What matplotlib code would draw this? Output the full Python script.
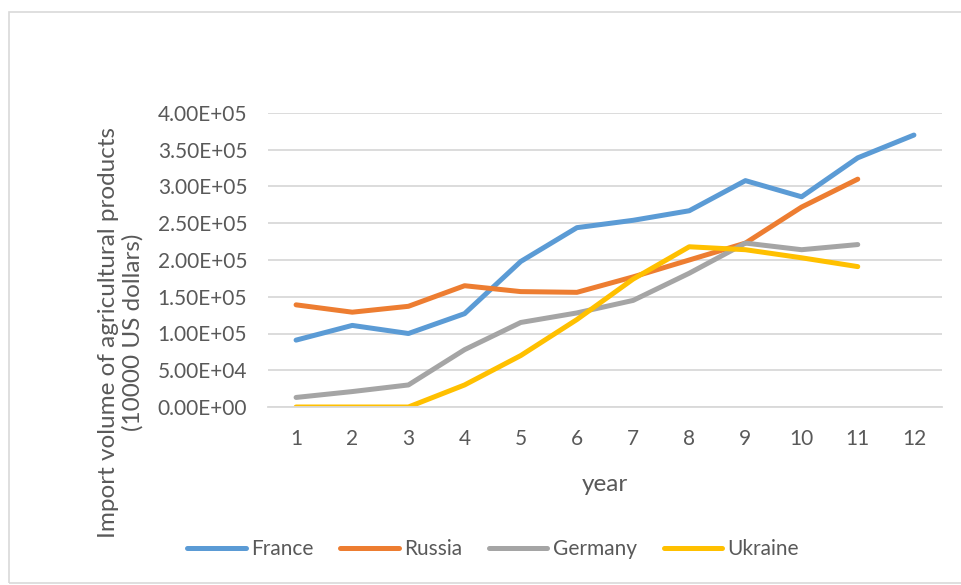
import matplotlib.pyplot as plt
from matplotlib.patches import Rectangle

years = list(range(1, 13))
france = [0.91e5, 1.11e5, 1.00e5, 1.27e5, 1.98e5, 2.44e5, 2.54e5, 2.67e5, 3.08e5, 2.86e5, 3.39e5, 3.70e5]
russia = [1.39e5, 1.29e5, 1.37e5, 1.65e5, 1.57e5, 1.56e5, 1.77e5, 2.00e5, 2.23e5, 2.72e5, 3.10e5]
germany = [0.13e5, 0.21e5, 0.30e5, 0.78e5, 1.15e5, 1.28e5, 1.45e5, 1.82e5, 2.23e5, 2.14e5, 2.21e5]
ukraine = [0, 0, 0, 0.30e5, 0.70e5, 1.19e5, 1.74e5, 2.18e5, 2.14e5, 2.03e5, 1.91e5]

yticks = [0, 0.5e5, 1.0e5, 1.5e5, 2.0e5, 2.5e5, 3.0e5, 3.5e5, 4.0e5]

plt.rcParams['font.family'] = ['Lato', 'DejaVu Sans']
text_color = '#595959'

fig = plt.figure(figsize=(9.61, 5.85), dpi=100)
W, H = 961, 585
ax = fig.add_axes([268 / W, 1 - 407 / H, (942 - 268) / W, (407 - 113) / H])

# chart area border
fig.patches.append(Rectangle((9 / W, 1 - 583 / H), 960 / W, 571 / H, transform=fig.transFigure,
                             fill=False, edgecolor='#D9D9D9', linewidth=1.2))

series = [('France', france, '#5B9BD5'), ('Russia', russia, '#ED7D31'),
          ('Germany', germany, '#A5A5A5'), ('Ukraine', ukraine, '#FFC000')]
for name, vals, col in series:
    ax.plot(years[:len(vals)], vals, color=col, linewidth=3.6, label=name,
            solid_capstyle='round', solid_joinstyle='round')

ax.set_xlim(0.5, 12.5)
ax.set_ylim(0, 4.0e5)
ax.set_yticks(yticks)
ax.set_yticklabels([f'{v:.2E}' for v in yticks])
ax.set_xticks(years)
ax.grid(axis='y', color='#D9D9D9', linewidth=1.3)
ax.set_axisbelow(True)
for s in ['left', 'right', 'top']:
    ax.spines[s].set_visible(False)
ax.spines['bottom'].set_color('#D9D9D9')
ax.spines['bottom'].set_linewidth(1.3)
ax.tick_params(axis='both', length=0, labelsize=15, labelcolor=text_color)
ax.tick_params(axis='y', pad=15)
ax.tick_params(axis='x', pad=16)

ax.set_xlabel('year', fontsize=17.5, color=text_color, labelpad=18)
fig.text(121 / W, 1 - 332 / H, 'Import volume of agricultural products\n(10000 US dollars)',
         rotation=90, ha='center', va='center', fontsize=17.5, color=text_color, linespacing=1.2)

ax.legend(loc='center', bbox_to_anchor=(493 / W, 1 - 549 / H), bbox_transform=fig.transFigure,
          ncol=4, frameon=False, fontsize=15, labelcolor=text_color, handlelength=2.8,
          handletextpad=0.25, columnspacing=1.3)

fig.savefig('out.png', dpi=100)
